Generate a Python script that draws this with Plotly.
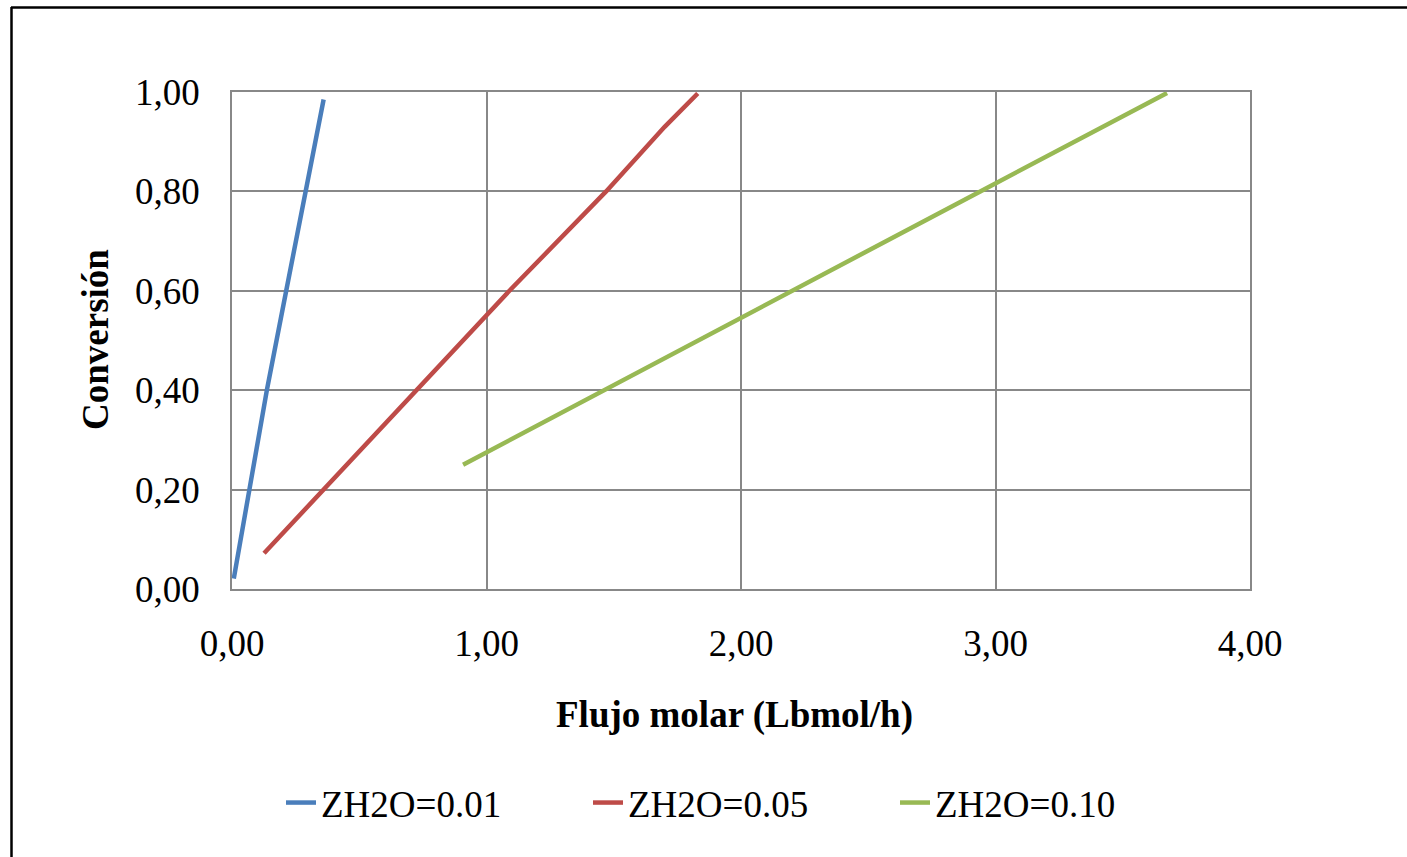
import plotly.graph_objects as go

W, H = 1407, 857

# ---- data ----
x_001 = [0.007, 0.068, 0.137, 0.213, 0.288, 0.360]
y_001 = [0.021, 0.200, 0.400, 0.600, 0.800, 0.985]

x_005 = [0.126, 0.36, 0.73, 1.09, 1.47, 1.70, 1.83]
y_005 = [0.072, 0.200, 0.400, 0.600, 0.800, 0.930, 0.997]

x_010 = [0.908, 1.46, 2.20, 2.94, 3.674]
y_010 = [0.250, 0.400, 0.600, 0.800, 0.998]

series_names = ["ZH2O=0.01", "ZH2O=0.05", "ZH2O=0.10"]
series_colors = ["#4A7EBB", "#BE4B48", "#98B954"]

x_tickvals = [0, 1, 2, 3, 4]
x_ticktext = ["0,00", "1,00", "2,00", "3,00", "4,00"]
y_tickvals = [0, 0.2, 0.4, 0.6, 0.8, 1.0]
y_ticktext = ["0,00", "0,20", "0,40", "0,60", "0,80", "1,00"]

x_title = "Flujo molar (Lbmol/h)"
y_title = "Conversión"

FONT = "Liberation Serif, Times New Roman, serif"
FS = 37

# plot area in pixels
PL, PR, PT, PB = 232, 1250, 92, 589

fig = go.Figure()
for xs, ys, name, col in zip([x_001, x_005, x_010], [y_001, y_005, y_010],
                             series_names, series_colors):
    fig.add_trace(go.Scatter(x=xs, y=ys, mode="lines", name=name,
                             line=dict(color=col, width=4.5)))

grid = "#888888"
fig.update_layout(
    width=W, height=H,
    margin=dict(l=0, r=0, t=0, b=0),
    paper_bgcolor="white", plot_bgcolor="white",
    font=dict(family=FONT, size=FS, color="black"),
    showlegend=True,
    legend=dict(orientation="h", x=(267 + 14) / W, xanchor="left",
                y=1 - 803 / H, yanchor="middle",
                entrywidth=262, entrywidthmode="pixels",
                font=dict(family=FONT, size=FS, color="black"),
                bgcolor="rgba(0,0,0,0)", itemwidth=30),
    xaxis=dict(domain=[PL / W, PR / W], range=[0, 4],
               tickvals=x_tickvals, ticktext=x_ticktext,
               showgrid=True, gridcolor=grid, gridwidth=1.5,
               showline=True, linecolor=grid, linewidth=1.5, mirror=True,
               zeroline=False, ticks="", ticklabelstandoff=21,
               automargin=False, tickfont=dict(size=FS)),
    yaxis=dict(domain=[1 - PB / H, 1 - PT / H], range=[0, 1],
               tickvals=y_tickvals, ticktext=y_ticktext,
               showgrid=True, gridcolor=grid, gridwidth=1.5,
               showline=True, linecolor=grid, linewidth=1.5, mirror=True,
               zeroline=False, ticks="", ticklabelstandoff=23,
               automargin=False, tickfont=dict(size=FS)),
    annotations=[
        dict(text="<b>" + x_title + "</b>", xref="paper", yref="paper",
             x=734 / W, y=1 - 715 / H, xanchor="center", yanchor="middle",
             showarrow=False, font=dict(family=FONT, size=FS)),
        dict(text="<b>" + y_title + "</b>", xref="paper", yref="paper",
             x=95 / W, y=1 - 340 / H, xanchor="center", yanchor="middle",
             textangle=-90, showarrow=False, font=dict(family=FONT, size=FS)),
    ],
    shapes=[
        dict(type="line", xref="paper", yref="paper",
             x0=11 / W, x1=1.0, y0=1 - 7.5 / H, y1=1 - 7.5 / H,
             line=dict(color="black", width=2.5)),
        dict(type="line", xref="paper", yref="paper",
             x0=11.5 / W, x1=11.5 / W, y0=0, y1=1 - 7 / H,
             line=dict(color="black", width=2.5)),
    ],
)

fig.write_html("out.html")
